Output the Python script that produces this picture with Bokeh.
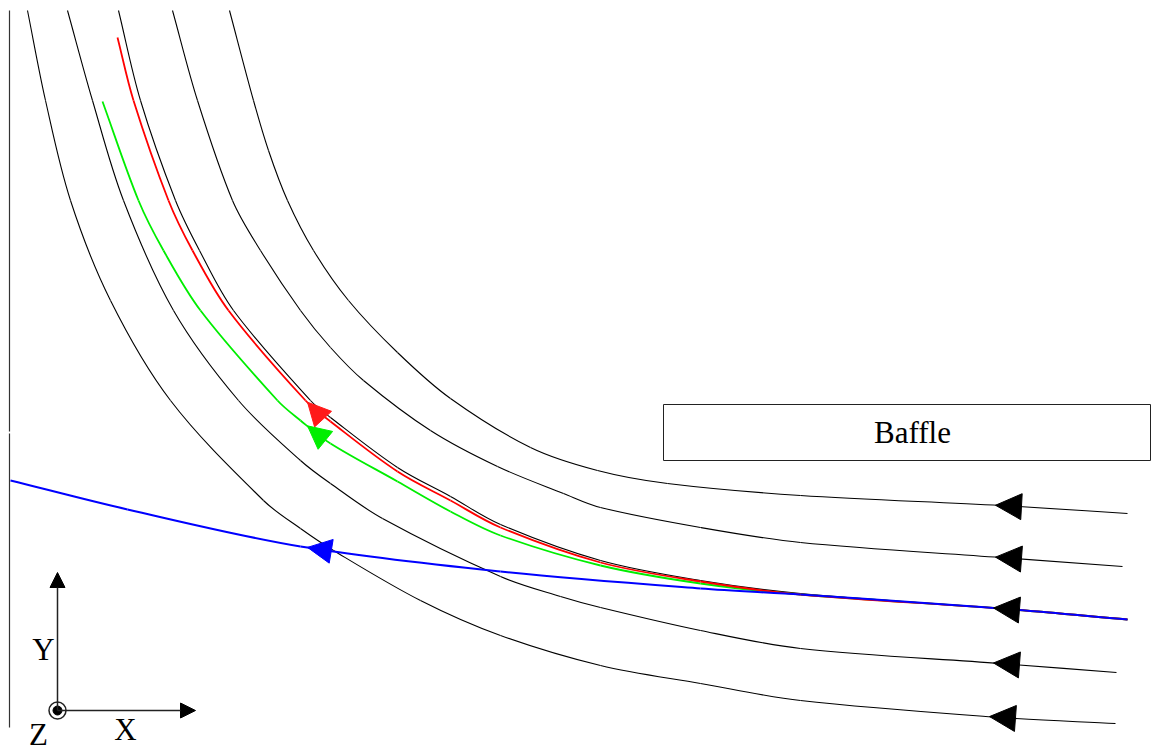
from bokeh.plotting import figure
from bokeh.models import Range1d, Arrow, NormalHead, ColumnDataSource
from bokeh.core.properties import value
from bokeh.embed import file_html
from bokeh.resources import INLINE
import numpy as np

W, H = 1151, 746

# Streamline coordinates (domain units, y measured downward), listed in the
# flow direction: from the inlet on the right to the outlet at the top.
sl1_x = [1127, 1000, 800, 667, 597, 530, 450, 397, 348, 313, 287, 268, 253, 229]
sl1_y = [513, 505, 495, 483, 470, 447, 398, 352, 300, 250, 200, 150, 100, 10]

sl2_x = [1122, 1000, 800, 700, 600, 563, 497, 430, 363, 330, 300, 260, 232, 197, 172]
sl2_y = [566, 557, 542, 527, 507, 493, 466, 430, 380, 347, 310, 250, 200, 100, 10]

sl3_x = [1127, 1000, 800, 700, 600, 500, 450, 397, 330, 310, 233, 199, 175, 140, 118]
sl3_y = [619, 608, 593, 580, 560, 524, 496, 467, 417, 400, 310, 250, 200, 100, 10]

sl4_x = [1116, 1000, 800, 700, 600, 560, 500, 382, 330, 300, 238, 173, 123, 92, 67]
sl4_y = [672, 663, 648, 630, 607, 596, 576, 518, 483, 460, 400, 310, 200, 100, 10]

sl5_x = [1115, 1000, 800, 700, 600, 500, 420, 333, 300, 263, 170, 110, 70, 45, 27]
sl5_y = [723, 717, 700, 683, 665, 635, 600, 550, 528, 500, 400, 300, 200, 100, 10]

# Tracked particle paths
red_x = [1127, 1000, 800, 700, 600, 500, 450, 397, 330, 305, 228, 192, 168, 133, 117]
red_y = [619, 608, 594, 581, 562, 527, 500, 471, 421, 400, 310, 250, 200, 100, 37]

green_x = [1127, 1000, 800, 700, 600, 500, 450, 397, 330, 300, 277, 200, 163, 138, 102]
green_y = [619, 608, 594, 583, 565, 535, 511, 481, 443, 420, 400, 310, 250, 200, 101]

blue_x = [1127, 1000, 800, 700, 500, 300, 127, 10]
blue_y = [619, 608, 594, 588, 571, 546, 509, 480]

# x position of the direction arrow on each path
black_arrow_x = [995, 995, 993, 993, 989]
path_arrow_x = 307

# Baffle plate
baffle_left, baffle_right = 663, 1150
baffle_top, baffle_bottom = 404, 460

# Domain wall on the left
wall_x = 9
wall_y0, wall_y1 = 10, 727

p = figure(width=W, height=H, x_range=Range1d(0, W), y_range=Range1d(H, 0),
           x_axis_type=None, y_axis_type=None, output_backend="svg",
           toolbar_location=None, min_border=0)
p.grid.visible = False
p.outline_line_color = None
p.background_fill_color = "white"
p.border_fill_color = "white"


def tangents(xs, ys):
    """Chord-length weighted tangents at every point of a polyline."""
    P = np.column_stack([xs, ys]).astype(float)
    n = len(P)
    T = np.zeros_like(P)
    for i in range(n):
        a = P[max(i - 1, 0)]
        b = P[min(i + 1, n - 1)]
        d = b - a
        T[i] = d / np.hypot(*d)
    return P, T


def smooth_path(xs, ys, **kw):
    """Draw a polyline as a chain of cubic Bezier segments through its points."""
    P, T = tangents(xs, ys)
    seg = np.hypot(*(P[1:] - P[:-1]).T)[:, None]
    c0 = P[:-1] + T[:-1] * seg / 3
    c1 = P[1:] - T[1:] * seg / 3
    p.bezier(x0=P[:-1, 0], y0=P[:-1, 1], x1=P[1:, 0], y1=P[1:, 1],
             cx0=c0[:, 0], cy0=c0[:, 1], cx1=c1[:, 0], cy1=c1[:, 1], **kw)


# wall (with its small seam)
p.line([wall_x, wall_x], [wall_y0, 431], line_color="#333333", line_width=1.2)
p.line([wall_x, wall_x], [433, wall_y1], line_color="#333333", line_width=1.2)

# baffle
p.quad(left=[baffle_left], right=[baffle_right], top=[baffle_top], bottom=[baffle_bottom],
       fill_color=None, line_color="#222222", line_width=1)
p.text(x=[912], y=[(baffle_top + baffle_bottom) / 2],
       text=["Baffle"], text_font=value("Liberation Serif"), text_font_size="31px",
       text_align="center", text_baseline="middle", text_color="black")

black_lines = [(sl1_x, sl1_y), (sl2_x, sl2_y), (sl3_x, sl3_y), (sl4_x, sl4_y), (sl5_x, sl5_y)]
for xs, ys in black_lines:
    smooth_path(xs, ys, line_color="black", line_width=1.1)

smooth_path(green_x, green_y, line_color="#00ee00", line_width=1.8)
smooth_path(red_x, red_y, line_color="#ff0000", line_width=1.8)
smooth_path(blue_x, blue_y, line_color="#0000ff", line_width=2.1)


def arrow_source(paths, tips):
    x0, y0, x1, y1 = [], [], [], []
    for (xs, ys), tx in zip(paths, tips):
        P, T = tangents(xs, ys)
        xa, ya = P[::-1, 0], P[::-1, 1]
        ty = np.interp(tx, xa, ya)
        # tangent at the nearest point, pointing along the flow
        k = int(np.argmin(np.abs(P[:, 0] - tx)))
        d = 20.0
        x0.append(tx - T[k, 0] * d)
        y0.append(ty - T[k, 1] * d)
        x1.append(tx)
        y1.append(ty)
    return ColumnDataSource(dict(x0=x0, y0=y0, x1=x1, y1=y1))


def add_arrows(paths, tips, color, size):
    src = arrow_source(paths, tips)
    p.add_layout(Arrow(x_start="x0", y_start="y0", x_end="x1", y_end="y1", source=src,
                       line_alpha=0,
                       end=NormalHead(size=size, fill_color=color, line_color=color,
                                      line_width=1)))


add_arrows(black_lines, black_arrow_x, "black", 26)
add_arrows([(red_x, red_y)], [path_arrow_x], "#ff1a1a", 23)
add_arrows([(green_x, green_y)], [path_arrow_x], "#00ee00", 23)
add_arrows([(blue_x, blue_y)], [path_arrow_x], "#0000ff", 24)

# coordinate triad
ox, oy = 57, 710
p.add_layout(Arrow(x_start=ox, y_start=oy, x_end=ox, y_end=572, line_color="#222222",
                   line_width=1.5,
                   end=NormalHead(size=15, fill_color="black", line_color="black", line_width=1)))
p.add_layout(Arrow(x_start=ox, y_start=oy, x_end=195, y_end=oy, line_color="#222222",
                   line_width=1.5,
                   end=NormalHead(size=15, fill_color="black", line_color="black", line_width=1)))
p.scatter([ox], [oy], marker="circle", size=17, fill_color="white",
          line_color="#222222", line_width=1.5)
p.scatter([ox], [oy], marker="circle", size=9, fill_color="black", line_color="black")

p.text(x=[43, 125, 38], y=[649, 729, 734], text=["Y", "X", "Z"],
       text_font=value("Liberation Serif"), text_font_size="31px",
       text_align="center", text_baseline="middle", text_color="black")

with open("out.html", "w") as f:
    f.write(file_html(p, INLINE))
